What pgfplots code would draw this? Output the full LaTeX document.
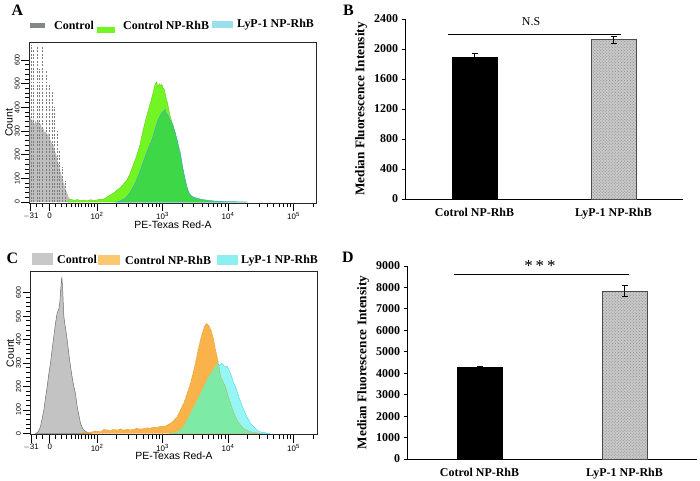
\documentclass[border=0pt]{standalone}
\usepackage{fontspec}
\setmainfont{Liberation Serif}
\setsansfont{Liberation Sans}
\usepackage{pgfplots}
\usepackage{pgfplotstable}
\pgfplotsset{compat=1.18}
\usetikzlibrary{patterns}

\definecolor{agray}{RGB}{190,190,190}
\definecolor{agrayd}{RGB}{125,125,125}
\definecolor{alime}{RGB}{115,245,35}
\definecolor{adark}{RGB}{62,215,72}
\definecolor{aedge}{RGB}{70,170,200}
\definecolor{cgray}{RGB}{195,195,195}
\definecolor{cgrayd}{RGB}{110,110,110}
\definecolor{corange}{RGB}{250,178,75}
\definecolor{corangeD}{RGB}{235,140,40}
\definecolor{ccyan}{RGB}{150,245,245}
\definecolor{ccyanD}{RGB}{90,210,220}
\definecolor{cmint}{RGB}{125,235,165}
\definecolor{barg}{RGB}{200,200,200}

% ---------- Panel A data ----------
\pgfplotstableread{
x y
0.970 0
0.972 345
0.990 360
1.008 335
1.025 355
1.045 325
1.060 345
1.080 330
1.100 350
1.120 320
1.140 332
1.160 305
1.180 312
1.200 292
1.220 300
1.240 282
1.260 290
1.280 268
1.300 255
1.320 245
1.340 236
1.360 212
1.380 196
1.400 172
1.420 155
1.440 130
1.460 110
1.480 92
1.500 72
1.520 56
1.540 40
1.560 26
1.580 14
1.600 8
1.620 4
1.650 0
}\Agray
\pgfplotstableread{
x y
0.992 665
1.033 645
1.084 660
1.125 560
1.170 660
1.226 555
1.277 495
1.313 470
1.349 400
1.389 300
1.430 220
1.471 150
1.511 90
}\Aspike
\pgfplotstableread{
x y
1.55 0
1.56 8
1.60 12
1.65 7
1.70 11
1.75 6
1.80 9
1.85 5
1.90 10
1.95 7
2.00 9
2.05 13
2.10 12
2.15 21
2.20 30
2.25 38
2.30 49
2.35 60
2.40 75
2.45 90
2.50 118
2.55 155
2.60 192
2.65 236
2.70 300
2.74 345
2.78 385
2.82 425
2.85 455
2.87 480
2.89 500
2.91 508
2.93 485
2.95 500
2.97 492
2.99 497
3.01 480
3.03 475
3.05 445
3.07 425
3.09 400
3.11 370
3.13 350
3.16 325
3.19 295
3.22 262
3.25 222
3.28 180
3.31 140
3.34 100
3.37 62
3.40 38
3.45 22
3.50 14
3.58 7
3.68 3
3.85 1
4.00 0
}\Alime
\pgfplotstableread{
x y
2.30 0
2.35 5
2.43 15
2.50 38
2.55 62
2.60 90
2.65 125
2.70 164
2.74 195
2.78 225
2.82 250
2.855 277
2.89 310
2.93 345
2.96 362
2.99 377
3.02 385
3.04 391
3.06 372
3.08 368
3.11 349
3.14 335
3.16 322
3.19 297
3.22 266
3.245 237
3.27 210
3.29 178
3.31 143
3.34 103
3.37 68
3.40 42
3.43 28
3.48 20
3.53 16
3.60 11
3.68 8
3.80 4
3.95 2
4.20 1
4.30 0
}\Alyp

% ---------- Panel C data ----------
\pgfplotstableread{
x y
1.059 0
1.084 3
1.110 12
1.135 29
1.160 62
1.186 100
1.210 150
1.237 200
1.262 255
1.288 300
1.313 360
1.338 414
1.364 470
1.389 514
1.415 530
1.430 560
1.445 620
1.461 668
1.476 600
1.491 500
1.505 470
1.517 450
1.542 400
1.567 340
1.593 286
1.618 240
1.644 200
1.669 170
1.695 114
1.720 80
1.746 43
1.771 25
1.796 14
1.847 4
1.898 0
}\Cgray
\pgfplotstableread{
x y
1.746 0
1.796 5
1.847 3
1.898 4
1.950 9
2.000 10
2.051 7
2.100 16
2.153 15
2.200 11
2.250 17
2.305 14
2.360 19
2.410 13
2.458 18
2.510 15
2.560 17
2.610 22
2.660 18
2.712 20
2.760 24
2.814 21
2.860 27
2.916 25
2.970 31
3.018 29
3.069 35
3.120 43
3.170 55
3.221 71
3.272 100
3.323 129
3.374 170
3.425 214
3.466 260
3.501 300
3.537 350
3.578 400
3.608 430
3.639 457
3.669 470
3.705 460
3.740 440
3.781 400
3.807 360
3.832 329
3.858 290
3.883 243
3.924 220
3.959 200
3.995 165
4.036 129
4.071 100
4.112 71
4.148 50
4.188 36
4.239 20
4.290 12
4.392 3
4.494 0
}\Corange
\pgfplotstableread{
x y
3.120 0
3.196 5
3.272 14
3.323 30
3.374 57
3.425 85
3.476 114
3.527 140
3.578 171
3.628 200
3.679 229
3.720 250
3.756 264
3.791 280
3.832 300
3.868 290
3.908 300
3.944 285
3.985 286
4.036 257
4.087 214
4.127 190
4.163 157
4.198 130
4.239 100
4.280 75
4.315 57
4.351 40
4.392 29
4.443 14
4.494 6
4.570 2
4.646 0
}\Ccyan
\pgfplotstableread{
x y
3.120 0
3.196 5
3.272 14
3.323 30
3.374 57
3.425 85
3.476 114
3.527 140
3.578 171
3.628 200
3.679 229
3.720 250
3.756 264
3.791 280
3.832 300
3.850 296
3.858 290
3.883 243
3.924 220
3.959 200
3.995 165
4.036 129
4.071 100
4.112 71
4.148 50
4.188 36
4.239 20
4.290 12
4.392 3
4.494 0
}\Cmint

\pgfplotsset{
  flowaxis/.style={
    scale only axis,
    anchor=south west,
    clip=true,
    axis line style={line width=0.7pt, black!85},
    tick pos=left,
    tick align=outside,
    every tick/.style={black, line width=0.8pt},
    major tick length=8bp,
    minor tick length=4.5bp,
    xtick={0.99,1.277,2,3,4,5},
    xticklabels={$-$31,0,10\textsuperscript{2},10\textsuperscript{3},10\textsuperscript{4},10\textsuperscript{5}},
    minor xtick={1.07,1.16,1.359,1.450,1.537,1.603,1.664,1.715,1.766,1.817,1.867,1.919,1.959,
      2.301,2.477,2.602,2.699,2.778,2.845,2.903,2.954,
      3.301,3.477,3.602,3.699,3.778,3.845,3.903,3.954,
      4.301,4.477,4.602,4.699,4.778,4.845,4.903,4.954,5.301},
    ytick={0,100,...,600},
    yticklabels={0,100,200,300,400,500,600},
    minor y tick num=4,
    xticklabel style={font=\sffamily\fontsize{8}{9}\selectfont, inner sep=1.5pt},
    yticklabel style={font=\sffamily\fontsize{7}{8}\selectfont, rotate=90, anchor=south, inner sep=1.5pt},
    xlabel={PE-Texas Red-A},
    ylabel={Count},
    label style={font=\sffamily\fontsize{10.5}{12}\selectfont},
    xlabel style={yshift=4bp},
    ylabel style={yshift=-3bp},
  },
  baraxis/.style={
    scale only axis,
    anchor=south west,
    clip=false,
    axis lines=left,
    axis line style={-, line width=0.8pt, black},
    xmin=-0.5, xmax=1.5,
    xtick={0,1},
    xticklabels={Cotrol NP-RhB, LyP-1 NP-RhB},
    x tick style={draw=none},
    y tick style={line width=0.8pt, black},
    tick align=outside,
    major tick length=3.5bp,
    ticklabel style={font=\bfseries\fontsize{12}{14}\selectfont},
    xticklabel style={yshift=-2bp},
    ylabel={Median Fluorescence Intensity},
    ylabel style={font=\bfseries\fontsize{13.3}{15}\selectfont},
    bar width=45bp,
  },
}

\begin{document}
\begin{tikzpicture}
\useasboundingbox (0bp,0bp) rectangle (700bp,481bp);

% ================= Panel A =================
\begin{axis}[flowaxis,
  at={(29.3bp,278bp)}, width=287.4bp, height=160.3bp,
  xmin=0.966, xmax=5.354, ymin=-4, ymax=673]
\addplot[fill=agray, draw=none] table {\Agray} \closedcycle;
\addplot[ycomb, dash pattern=on 2pt off 1.5pt, draw=agrayd, line width=0.5pt] table {\Aspike};
\addplot[fill=alime, draw=alime!80!black, line width=0.3pt] table {\Alime} \closedcycle;
\addplot[fill=adark, draw=aedge, line width=0.5pt] table {\Alyp} \closedcycle;
\end{axis}

% ================= Panel C =================
\begin{axis}[flowaxis,
  at={(30.7bp,46.5bp)}, width=286.6bp, height=162.8bp,
  xmin=0.985, xmax=5.363, ymin=-5, ymax=690]
\addplot[fill=cgray, draw=cgrayd, line width=0.5pt] table {\Cgray} \closedcycle;
\addplot[fill=ccyan, draw=ccyanD, line width=0.4pt] table {\Ccyan} \closedcycle;
\addplot[fill=corange, draw=corangeD, line width=0.4pt, densely dotted] table {\Corange} \closedcycle;
\addplot[fill=cmint, draw=none] table {\Cmint} \closedcycle;
\addplot[draw=corangeD!80!green, line width=0.4pt, densely dotted] table {\Corange};
\end{axis}

% ================= Panel B =================
\begin{axis}[baraxis,
  at={(405bp,282bp)}, width=278bp, height=180bp,
  ymin=0, ymax=2400, ytick={0,400,800,1200,1600,2000,2400},
  yticklabels={0,400,800,1200,1600,2000,2400}]
\addplot[ybar, bar shift=0pt, fill=black, draw=black,
  error bars/.cd, y dir=both, y explicit,
  error bar style={line width=0.7pt, black}, error mark options={rotate=90, mark size=3bp, line width=0.7pt}]
  coordinates {(0,1885) +- (0,60)};
\addplot[ybar, bar shift=0pt, fill=barg, draw=black!70, line width=0.8pt,
  postaction={pattern=crosshatch dots, pattern color=black!45},
  error bars/.cd, y dir=both, y explicit,
  error bar style={line width=0.7pt, black}, error mark options={rotate=90, mark size=3bp, line width=0.7pt}]
  coordinates {(1,2125) +- (0,50)};
\draw[line width=0.9pt] (axis cs:-0.193,2200) -- (axis cs:1.057,2200);
\node[font=\fontsize{12}{14}\selectfont] at (axis cs:0.407,2360) {N.S};
\end{axis}

% ================= Panel D =================
\begin{axis}[baraxis,
  at={(407bp,22bp)}, width=290bp, height=193bp,
  ymin=0, ymax=9000, ytick={0,1000,2000,3000,4000,5000,6000,7000,8000,9000},
  yticklabels={0,1000,2000,3000,4000,5000,6000,7000,8000,9000}]
\addplot[ybar, bar shift=0pt, fill=black, draw=black,
  error bars/.cd, y dir=both, y explicit,
  error bar style={line width=0.7pt, black}, error mark options={rotate=90, mark size=3bp, line width=0.7pt}]
  coordinates {(0,4300) +- (0,30)};
\addplot[ybar, bar shift=0pt, fill=barg, draw=black!70, line width=0.8pt,
  postaction={pattern=crosshatch dots, pattern color=black!45},
  error bars/.cd, y dir=both, y explicit,
  error bar style={line width=0.7pt, black}, error mark options={rotate=90, mark size=3bp, line width=0.7pt}]
  coordinates {(1,7830) +- (0,250)};
\draw[line width=0.9pt] (axis cs:-0.176,8627) -- (axis cs:1.031,8627);
\node[font=\fontsize{17}{18}\selectfont] at (axis cs:0.417,9020) {*\,*\,*};
\end{axis}

% ================= Legends and panel letters =================
\tikzset{legtxt/.style={anchor=west, inner sep=0pt, font=\bfseries\fontsize{12}{14}\selectfont},
         plet/.style={inner sep=0pt, font=\bfseries\fontsize{16}{18}\selectfont}}
% A legend
\fill[fill={rgb,255:red,130;green,135;blue,135}] (30bp,452.7bp) rectangle (45bp,458.3bp);
\node[legtxt] at (54bp,456bp) {Control};
\fill[alime] (97bp,447.7bp) rectangle (115bp,454.3bp);
\node[legtxt] at (123bp,456bp) {Control NP-RhB};
\fill[fill={rgb,255:red,150;green,225;blue,235}] (212bp,452.7bp) rectangle (233bp,460.3bp);
\node[legtxt] at (237bp,456bp) {LyP-1 NP-RhB};
% C legend
\fill[fill={rgb,255:red,200;green,200;blue,200}] (31.7bp,216bp) rectangle (52.5bp,228bp);
\node[legtxt] at (57bp,222bp) {Control};
\fill[fill={rgb,255:red,250;green,200;blue,110}] (98bp,216bp) rectangle (120bp,226bp);
\node[legtxt] at (125bp,220.5bp) {Control NP-RhB};
\fill[fill={rgb,255:red,140;green,240;blue,240}] (217bp,216bp) rectangle (238bp,226bp);
\node[legtxt] at (241bp,220.5bp) {LyP-1 NP-RhB};
% panel letters
\node[plet] at (17.5bp,471bp) {A};
\node[plet] at (348.5bp,471bp) {B};
\node[plet] at (12.5bp,223bp) {C};
\node[plet] at (348bp,224bp) {D};
\end{tikzpicture}
\end{document}
